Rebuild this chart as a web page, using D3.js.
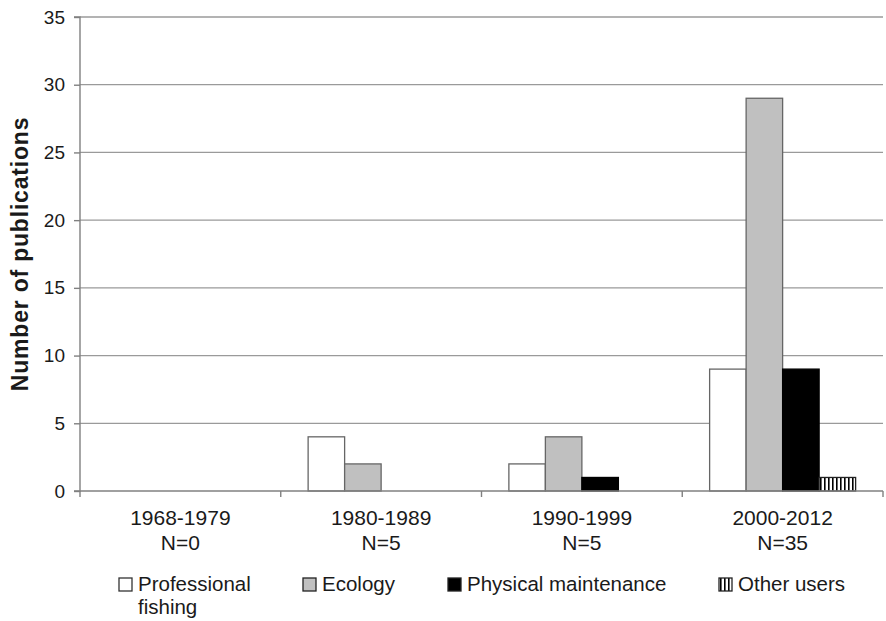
<!DOCTYPE html>
<html>
<head>
<meta charset="utf-8">
<script src="https://cdn.jsdelivr.net/npm/d3@7"></script>
<style>
  html, body { margin: 0; padding: 0; background: #ffffff; }
  svg { display: block; font-family: "Liberation Sans", Arial, sans-serif; }
</style>
</head>
<body>
<svg id="chart" width="886" height="621"></svg>
<script>
// Publications per period, split by research theme
const categories = ["1968-1979", "1980-1989", "1990-1999", "2000-2012"];
const categoryN = ["N=0", "N=5", "N=5", "N=35"];
const seriesNames = ["Professional fishing", "Ecology", "Physical maintenance", "Other users"];
const professionalFishing = [0, 4, 2, 9];
const ecology = [0, 2, 4, 29];
const physicalMaintenance = [0, 0, 1, 9];
const otherUsers = [0, 0, 0, 1];
const yTicks = [0, 5, 10, 15, 20, 25, 30, 35];

const seriesValues = [professionalFishing, ecology, physicalMaintenance, otherUsers];

const svg = d3.select("#chart");
const textColor = "#1a1a1a";

// Plot area
const plotLeft = 80, plotRight = 883, plotTop = 17, plotBottom = 491;

const defs = svg.append("defs");
const stripes = defs.append("pattern")
  .attr("id", "vstripes")
  .attr("patternUnits", "userSpaceOnUse")
  .attr("width", 4).attr("height", 4);
stripes.append("rect").attr("width", 4).attr("height", 4).attr("fill", "#ffffff");
stripes.append("rect").attr("x", 0).attr("width", 1.6).attr("height", 4).attr("fill", "#000000");

const fills = ["#ffffff", "#c0c0c0", "#000000", "url(#vstripes)"];
const strokes = ["#666666", "#666666", "#000000", "#222222"];

const x = d3.scaleBand().domain(categories).range([plotLeft, plotRight]).paddingInner(0).paddingOuter(0);
const xInner = d3.scaleBand().domain(seriesNames).range([0, x.bandwidth()]).paddingInner(0).paddingOuter(0.75);
const y = d3.scaleLinear().domain([0, 35]).range([plotBottom, plotTop]);

// Horizontal gridlines
svg.append("g")
  .selectAll("line")
  .data(yTicks.filter(d => d > 0))
  .join("line")
  .attr("x1", plotLeft).attr("x2", plotRight)
  .attr("y1", d => y(d)).attr("y2", d => y(d))
  .attr("stroke", "#9a9a9a").attr("stroke-width", 1.3);

// Bars
const rows = [];
categories.forEach((c, i) => {
  seriesNames.forEach((s, j) => {
    rows.push({ cat: c, series: s, j: j, value: seriesValues[j][i] });
  });
});

svg.append("g")
  .selectAll("rect")
  .data(rows.filter(d => d.value > 0))
  .join("rect")
  .attr("x", d => x(d.cat) + xInner(d.series))
  .attr("y", d => y(d.value))
  .attr("width", xInner.bandwidth())
  .attr("height", d => y(0) - y(d.value))
  .attr("fill", d => fills[d.j])
  .attr("stroke", d => strokes[d.j])
  .attr("stroke-width", 1.3);

// Y axis
const yAxis = d3.axisLeft(y).tickValues(yTicks).tickSize(6).tickPadding(9);
const gy = svg.append("g").attr("transform", `translate(${plotLeft},0)`).call(yAxis);
gy.select(".domain").attr("stroke", "#808080").attr("stroke-width", 1.4).attr("d", `M-6,${plotTop}H0V${plotBottom}H-6`);
gy.selectAll(".tick line").attr("stroke", "#808080").attr("stroke-width", 1.4);
gy.selectAll(".tick text")
  .attr("fill", textColor)
  .style("font-size", "19px")
  .style("font-family", "'Liberation Sans', Arial, sans-serif");

// X axis baseline and category separators
const gx = svg.append("g");
gx.append("line")
  .attr("x1", plotLeft).attr("x2", plotRight)
  .attr("y1", plotBottom).attr("y2", plotBottom)
  .attr("stroke", "#808080").attr("stroke-width", 1.4);
const boundaries = categories.map(c => x(c)).concat([x(categories[categories.length - 1]) + x.bandwidth()]);
gx.selectAll("line.sep")
  .data(boundaries)
  .join("line")
  .attr("class", "sep")
  .attr("x1", d => d).attr("x2", d => d)
  .attr("y1", plotBottom).attr("y2", plotBottom + 6)
  .attr("stroke", "#808080").attr("stroke-width", 1.4);

// Category labels (two lines)
const labels = gx.selectAll("text.cat")
  .data(categories)
  .join("text")
  .attr("class", "cat")
  .attr("text-anchor", "middle")
  .attr("fill", textColor)
  .style("font-size", "21px");
labels.append("tspan")
  .attr("x", d => x(d) + x.bandwidth() / 2)
  .attr("y", 525)
  .text(d => d);
labels.append("tspan")
  .attr("x", d => x(d) + x.bandwidth() / 2)
  .attr("y", 550)
  .text((d, i) => categoryN[i]);

// Y axis title
svg.append("text")
  .attr("transform", `translate(28,${(plotTop + plotBottom) / 2}) rotate(-90)`)
  .attr("text-anchor", "middle")
  .attr("fill", textColor)
  .style("font-size", "23px")
  .style("font-weight", "bold")
  .style("letter-spacing", "0.8px")
  .text("Number of publications");

// Legend
const legendTextX = [138, 322, 467, 738];
const legendLines = [["Professional", "fishing"], ["Ecology"], ["Physical maintenance"], ["Other users"]];
const legend = svg.append("g");
seriesNames.forEach((s, j) => {
  legend.append("rect")
    .attr("x", legendTextX[j] - 19)
    .attr("y", 578)
    .attr("width", 13)
    .attr("height", 13)
    .attr("fill", fills[j])
    .attr("stroke", j === 0 ? "#333333" : "#222222")
    .attr("stroke-width", 1.3);
  const t = legend.append("text")
    .attr("fill", textColor)
    .style("font-size", "20.5px");
  legendLines[j].forEach((line, k) => {
    t.append("tspan")
      .attr("x", legendTextX[j])
      .attr("y", 591 + k * 23)
      .text(line);
  });
});
</script>
</body>
</html>
